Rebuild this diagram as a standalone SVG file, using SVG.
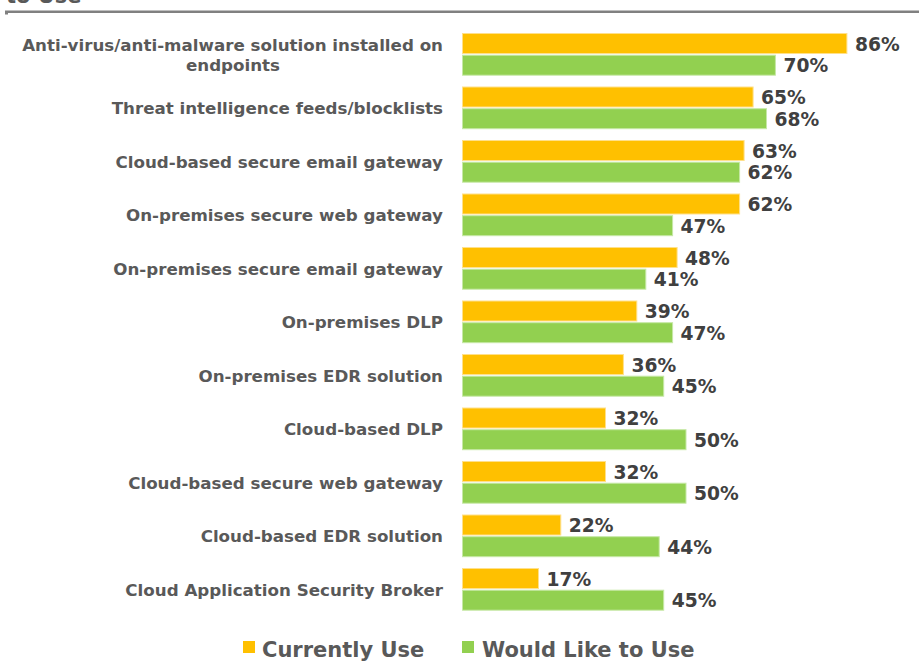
<svg xmlns="http://www.w3.org/2000/svg" width="919" height="666" viewBox="0 0 919 666">
<style>
.cat{font-family:"DejaVu Sans","Verdana",sans-serif;font-weight:bold;font-size:16.7px;fill:#595959;text-anchor:end}
.val{font-family:"DejaVu Sans","Verdana",sans-serif;font-weight:bold;font-size:18.7px;fill:#404040}
.leg{font-family:"DejaVu Sans","Verdana",sans-serif;font-weight:bold;font-size:21px;fill:#595959}
.cur{fill:#FFC000;stroke:#FFE08A;stroke-width:1}
.would{fill:#92D050;stroke:#C6E8A6;stroke-width:1}
</style>
<rect width="919" height="666" fill="#ffffff"/>
<g id="header">
<text class="leg" x="6" y="2.5">to Use</text>
<rect x="5" y="10.5" width="914" height="2.5" fill="#808080"/>
<rect x="5" y="12.5" width="3" height="2" fill="#808080"/>
</g>
<g id="cat1">
<text class="cat" x="443" y="51">Anti-virus/anti-malware solution installed on</text>
<text class="cat" x="233" y="71" style="text-anchor:middle">endpoints</text>
<rect class="cur" x="462.5" y="33.5" width="384.4" height="20"/>
<rect class="would" x="462.5" y="55.2" width="312.9" height="20"/>
<text class="val" x="854.9" y="50.5">86%</text>
<text class="val" x="783.4" y="72.2">70%</text>
</g>
<g id="cat2">
<text class="cat" x="443" y="114">Threat intelligence feeds/blocklists</text>
<rect class="cur" x="462.5" y="87" width="290.6" height="20"/>
<rect class="would" x="462.5" y="108.7" width="304" height="20"/>
<text class="val" x="761.1" y="104">65%</text>
<text class="val" x="774.5" y="125.7">68%</text>
</g>
<g id="cat3">
<text class="cat" x="443" y="167.5">Cloud-based secure email gateway</text>
<rect class="cur" x="462.5" y="140.5" width="281.6" height="20"/>
<rect class="would" x="462.5" y="162.2" width="277.1" height="20"/>
<text class="val" x="752.1" y="157.5">63%</text>
<text class="val" x="747.6" y="179.2">62%</text>
</g>
<g id="cat4">
<text class="cat" x="443" y="221">On-premises secure web gateway</text>
<rect class="cur" x="462.5" y="194" width="277.1" height="20"/>
<rect class="would" x="462.5" y="215.7" width="210.1" height="20"/>
<text class="val" x="747.6" y="211">62%</text>
<text class="val" x="680.6" y="232.7">47%</text>
</g>
<g id="cat5">
<text class="cat" x="443" y="274.5">On-premises secure email gateway</text>
<rect class="cur" x="462.5" y="247.5" width="214.6" height="20"/>
<rect class="would" x="462.5" y="269.2" width="183.3" height="20"/>
<text class="val" x="685.1" y="264.5">48%</text>
<text class="val" x="653.8" y="286.2">41%</text>
</g>
<g id="cat6">
<text class="cat" x="443" y="328">On-premises DLP</text>
<rect class="cur" x="462.5" y="301" width="174.3" height="20"/>
<rect class="would" x="462.5" y="322.7" width="210.1" height="20"/>
<text class="val" x="644.8" y="318">39%</text>
<text class="val" x="680.6" y="339.7">47%</text>
</g>
<g id="cat7">
<text class="cat" x="443" y="381.5">On-premises EDR solution</text>
<rect class="cur" x="462.5" y="354.5" width="160.9" height="20"/>
<rect class="would" x="462.5" y="376.2" width="201.2" height="20"/>
<text class="val" x="631.4" y="371.5">36%</text>
<text class="val" x="671.7" y="393.2">45%</text>
</g>
<g id="cat8">
<text class="cat" x="443" y="435">Cloud-based DLP</text>
<rect class="cur" x="462.5" y="408" width="143" height="20"/>
<rect class="would" x="462.5" y="429.7" width="223.5" height="20"/>
<text class="val" x="613.5" y="425">32%</text>
<text class="val" x="694" y="446.7">50%</text>
</g>
<g id="cat9">
<text class="cat" x="443" y="488.5">Cloud-based secure web gateway</text>
<rect class="cur" x="462.5" y="461.5" width="143" height="20"/>
<rect class="would" x="462.5" y="483.2" width="223.5" height="20"/>
<text class="val" x="613.5" y="478.5">32%</text>
<text class="val" x="694" y="500.2">50%</text>
</g>
<g id="cat10">
<text class="cat" x="443" y="542">Cloud-based EDR solution</text>
<rect class="cur" x="462.5" y="515" width="98.3" height="20"/>
<rect class="would" x="462.5" y="536.7" width="196.7" height="20"/>
<text class="val" x="568.8" y="532">22%</text>
<text class="val" x="667.2" y="553.7">44%</text>
</g>
<g id="cat11">
<text class="cat" x="443" y="595.5">Cloud Application Security Broker</text>
<rect class="cur" x="462.5" y="568.5" width="76" height="20"/>
<rect class="would" x="462.5" y="590.2" width="201.2" height="20"/>
<text class="val" x="546.5" y="585.5">17%</text>
<text class="val" x="671.7" y="607.2">45%</text>
</g>
<g id="legend">
<rect x="243" y="641" width="12" height="12" fill="#FFC000"/>
<text class="leg" x="262" y="657">Currently Use</text>
<rect x="462" y="641" width="12" height="12" fill="#92D050"/>
<text class="leg" x="482" y="657">Would Like to Use</text>
</g>
<g id="connectors"/>
</svg>
